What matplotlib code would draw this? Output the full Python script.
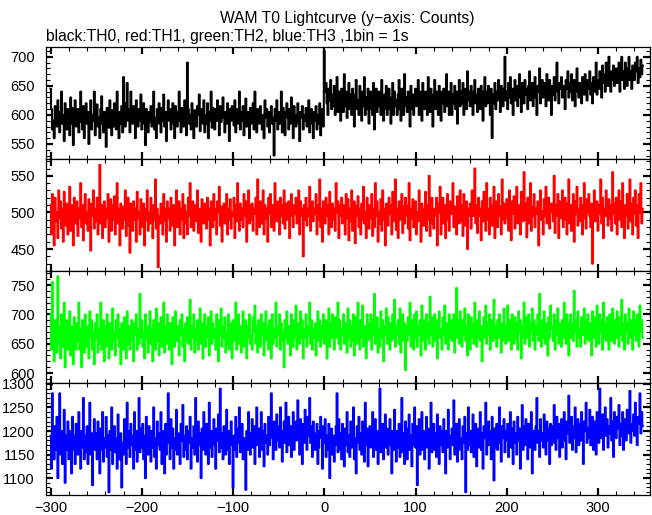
import numpy as np
import matplotlib
matplotlib.use('Agg')
import matplotlib.pyplot as plt
from matplotlib.ticker import MultipleLocator

# 1 s bins, t = -300 ... 349
t_start = -300
t_step = 1

th0 = [645, 610, 575, 590, 560, 615, 600, 580, 625, 595,
       570, 605, 640, 585, 600, 555, 620, 590, 575, 610,
       598, 565, 630, 585, 612, 548, 600, 625, 580, 595,
       610, 570, 588, 640, 600, 575, 615, 560, 595, 620,
       585, 605, 550, 598, 625, 575, 600, 590, 640, 565,
       600, 618, 580, 595, 560, 610, 632, 585, 570, 605,
       590, 545, 612, 600, 578, 625, 595, 565, 608, 580,
       620, 598, 575, 640, 590, 560, 605, 585, 615, 570,
       665, 600, 580, 620, 655, 590, 610, 570, 640, 600,
       585, 615, 595, 560, 625, 605, 580, 610, 590, 635,
       575, 600, 620, 585, 548, 610, 595, 570, 605, 588,
       615, 580, 600, 640, 575, 595, 560, 610, 585, 620,
       598, 570, 612, 590, 635, 580, 605, 555, 600, 625,
       590, 610, 575, 600, 620, 585, 560, 615, 595, 580,
       605, 640, 590, 570, 612, 595, 580, 625, 600, 565,
       690, 610, 585, 600, 575, 620, 595, 560, 608, 590,
       580, 615, 600, 635, 572, 598, 610, 585, 625, 570,
       600, 585, 620, 560, 605, 590, 640, 578, 612, 595,
       575, 610, 590, 625, 600, 565, 615, 588, 600, 630,
       595, 570, 605, 585, 620, 600, 555, 610, 590, 615,
       600, 582, 625, 570, 595, 610, 585, 640, 575, 605,
       590, 615, 565, 600, 628, 580, 605, 595, 560, 612,
       585, 600, 620, 575, 640, 595, 570, 610, 600, 585,
       615, 590, 575, 600, 560, 625, 595, 610, 580, 605,
       570, 600, 615, 585, 595, 530, 610, 590, 625, 575,
       605, 585, 598, 640, 570, 612, 590, 565, 605, 620,
       595, 575, 610, 585, 630, 600, 560, 615, 590, 580,
       600, 620, 585, 555, 605, 595, 615, 575, 600, 590,
       612, 580, 600, 625, 570, 595, 610, 585, 560, 605,
       590, 615, 575, 600, 585, 620, 565, 598, 610, 580,
       710, 640, 655, 620, 600, 645, 625, 660, 610, 635,
       615, 650, 600, 628, 665, 605, 640, 620, 590, 645,
       630, 605, 670, 615, 640, 595, 625, 655, 610, 635,
       600, 645, 620, 580, 635, 660, 610, 625, 600, 650,
       625, 590, 640, 615, 665, 600, 630, 610, 645, 585,
       610, 640, 625, 600, 655, 575, 620, 645, 605, 630,
       640, 615, 600, 660, 625, 590, 635, 610, 650, 600,
       620, 645, 610, 585, 630, 655, 600, 640, 615, 625,
       600, 635, 660, 610, 590, 645, 625, 600, 670, 615,
       630, 605, 640, 620, 580, 650, 610, 635, 600, 625,
       645, 615, 630, 660, 600, 640, 620, 590, 655, 625,
       610, 640, 625, 600, 665, 630, 605, 645, 620, 580,
       635, 660, 610, 640, 620, 600, 650, 625, 590, 640,
       620, 645, 605, 630, 670, 615, 640, 600, 630, 655,
       600, 635, 620, 650, 610, 640, 585, 625, 660, 615,
       640, 620, 655, 600, 630, 645, 610, 675, 625, 640,
       615, 650, 630, 600, 640, 660, 620, 635, 605, 645,
       630, 610, 650, 625, 590, 640, 665, 615, 640, 620,
       650, 625, 600, 645, 560, 635, 620, 655, 610, 640,
       625, 660, 635, 605, 650, 630, 615, 645, 700, 625,
       640, 610, 655, 630, 665, 620, 645, 600, 640, 660,
       625, 650, 615, 640, 670, 630, 605, 655, 640, 620,
       660, 635, 645, 610, 650, 675, 625, 640, 655, 615,
       640, 665, 630, 600, 650, 640, 680, 620, 645, 660,
       630, 655, 640, 615, 670, 645, 625, 660, 640, 600,
       650, 635, 665, 625, 645, 690, 640, 620, 655, 645,
       665, 630, 650, 640, 610, 660, 645, 675, 630, 655,
       640, 670, 625, 650, 660, 615, 645, 680, 640, 630,
       655, 640, 620, 665, 650, 635, 670, 645, 625, 660,
       645, 675, 635, 655, 620, 665, 650, 640, 690, 635,
       660, 645, 675, 650, 630, 685, 655, 670, 640, 690,
       665, 650, 700, 655, 640, 675, 660, 685, 650, 670,
       680, 655, 665, 690, 640, 670, 700, 660, 675, 645,
       690, 665, 650, 680, 700, 660, 675, 645, 685, 670,
       660, 690, 675, 700, 655, 680, 665, 695, 670, 685]

th1 = [510, 470, 525, 495, 455, 520, 488, 500, 465, 530,
       492, 515, 478, 505, 460, 528, 495, 482, 512, 470,
       498, 535, 475, 510, 490, 455, 520, 500, 485, 515,
       468, 505, 492, 540, 480, 510, 462, 498, 525, 485,
       500, 475, 518, 490, 448, 512, 495, 530, 478, 505,
       488, 520, 470, 502, 565, 485, 510, 465, 498, 515,
       480, 505, 492, 525, 460, 500, 518, 475, 510, 490,
       522, 470, 498, 540, 485, 505, 455, 512, 495, 478,
       508, 490, 530, 468, 500, 520, 482, 445, 512, 495,
       475, 515, 490, 505, 460, 528, 492, 500, 470, 518,
       495, 480, 512, 455, 505, 490, 530, 475, 500, 485,
       520, 498, 465, 510, 490, 545, 478, 505, 425, 495,
       485, 512, 500, 470, 525, 488, 505, 460, 515, 492,
       505, 475, 520, 495, 482, 510, 455, 500, 530, 480,
       498, 515, 470, 505, 490, 525, 465, 510, 485, 500,
       470, 520, 495, 540, 480, 505, 515, 475, 498, 510,
       488, 530, 472, 505, 495, 460, 518, 500, 485, 512,
       495, 478, 520, 490, 505, 455, 515, 498, 480, 525,
       505, 490, 470, 515, 500, 535, 482, 508, 460, 495,
       512, 485, 500, 525, 470, 505, 490, 518, 478, 500,
       495, 520, 465, 510, 488, 540, 500, 475, 512, 490,
       505, 480, 525, 495, 515, 460, 500, 530, 485, 510,
       490, 512, 475, 505, 498, 520, 470, 545, 495, 480,
       515, 500, 485, 530, 470, 510, 492, 505, 460, 520,
       498, 525, 480, 510, 495, 475, 540, 500, 488, 515,
       505, 470, 520, 495, 510, 485, 530, 478, 500, 512,
       490, 515, 465, 505, 525, 495, 480, 510, 498, 520,
       485, 500, 530, 470, 515, 495, 505, 440, 510, 490,
       520, 482, 505, 495, 535, 475, 500, 515, 488, 505,
       498, 525, 470, 510, 490, 545, 480, 505, 460, 515,
       500, 485, 520, 495, 510, 470, 528, 498, 480, 512,
       490, 505, 475, 540, 500, 515, 465, 510, 495, 520,
       485, 510, 498, 470, 525, 492, 518, 462, 505, 488,
       530, 475, 500, 515, 458, 508, 495, 522, 480, 505,
       470, 512, 490, 535, 485, 500, 465, 520, 498, 478,
       510, 492, 525, 468, 505, 480, 540, 495, 515, 460,
       500, 485, 518, 475, 530, 490, 505, 455, 512, 495,
       482, 520, 498, 510, 470, 528, 488, 502, 545, 476,
       505, 465, 515, 490, 500, 525, 472, 508, 485, 520,
       495, 510, 478, 540, 462, 505, 492, 518, 480, 500,
       515, 470, 500, 488, 530, 495, 460, 512, 505, 482,
       498, 528, 475, 510, 490, 550, 468, 505, 520, 485,
       478, 505, 495, 520, 455, 512, 500, 535, 470, 508,
       520, 485, 510, 465, 500, 525, 490, 475, 515, 498,
       505, 540, 480, 508, 492, 470, 522, 500, 485, 530,
       488, 510, 468, 525, 500, 482, 515, 450, 505, 495,
       512, 478, 530, 495, 505, 560, 485, 510, 472, 520,
       495, 505, 462, 515, 488, 528, 500, 475, 540, 490,
       505, 470, 520, 498, 482, 510, 535, 465, 500, 515,
       480, 525, 495, 508, 470, 545, 490, 512, 485, 500,
       518, 492, 475, 530, 505, 462, 515, 498, 522, 478,
       500, 535, 485, 510, 495, 470, 528, 505, 488, 555,
       490, 512, 466, 520, 500, 485, 540, 475, 508, 495,
       525, 480, 505, 498, 515, 455, 510, 530, 490, 502,
       470, 518, 495, 535, 485, 505, 520, 478, 500, 512,
       505, 488, 550, 472, 510, 495, 525, 465, 515, 500,
       492, 530, 480, 505, 520, 490, 470, 512, 545, 485,
       510, 475, 500, 525, 460, 515, 498, 535, 482, 505,
       488, 520, 505, 470, 510, 540, 492, 478, 518, 500,
       525, 495, 480, 512, 430, 505, 530, 488, 500, 515,
       475, 510, 498, 545, 485, 520, 465, 505, 495, 530,
       500, 482, 518, 492, 510, 475, 555, 498, 512, 485,
       520, 470, 505, 530, 490, 515, 480, 540, 500, 465,
       510, 495, 525, 478, 505, 545, 488, 512, 470, 520,
       498, 530, 482, 510, 465, 525, 500, 540, 485, 505]

th2 = [700, 640, 755, 660, 620, 690, 675, 635, 765, 650,
       680, 625, 700, 660, 645, 720, 610, 670, 690, 640,
       665, 705, 630, 680, 650, 615, 695, 660, 640, 685,
       655, 720, 640, 675, 610, 690, 665, 635, 700, 660,
       645, 680, 625, 705, 660, 690, 640, 670, 615, 685,
       660, 700, 635, 675, 650, 720, 640, 665, 690, 620,
       680, 645, 700, 660, 625, 685, 670, 640, 710, 655,
       670, 630, 690, 660, 700, 645, 675, 615, 685, 660,
       640, 695, 665, 625, 705, 650, 680, 640, 670, 690,
       655, 620, 685, 665, 700, 640, 675, 650, 735, 660,
       690, 645, 670, 625, 700, 660, 680, 635, 665, 705,
       650, 675, 620, 690, 660, 640, 710, 655, 685, 630,
       670, 695, 645, 660, 720, 635, 680, 650, 700, 665,
       640, 685, 660, 615, 695, 670, 645, 705, 655, 680,
       660, 630, 690, 665, 700, 645, 675, 620, 685, 655,
       695, 650, 670, 725, 640, 680, 660, 700, 635, 675,
       655, 690, 640, 670, 710, 650, 685, 625, 665, 700,
       645, 680, 660, 695, 630, 670, 705, 650, 685, 660,
       675, 640, 700, 660, 620, 690, 665, 710, 645, 680,
       660, 695, 635, 670, 650, 700, 640, 685, 665, 625,
       690, 655, 675, 720, 640, 665, 700, 650, 680, 635,
       670, 705, 645, 660, 690, 625, 680, 660, 700, 650,
       665, 640, 695, 670, 715, 650, 680, 635, 690, 660,
       645, 700, 665, 685, 630, 670, 705, 655, 680, 640,
       690, 660, 625, 700, 650, 675, 660, 720, 645, 680,
       665, 700, 640, 685, 655, 670, 610, 690, 660, 705,
       650, 680, 665, 630, 700, 675, 645, 690, 660, 715,
       640, 685, 670, 650, 705, 660, 690, 625, 675, 660,
       700, 645, 680, 665, 720, 650, 690, 640, 675, 660,
       685, 630, 670, 705, 655, 690, 645, 680, 660, 700,
       650, 675, 690, 625, 665, 710, 645, 685, 660, 700,
       670, 640, 695, 660, 680, 720, 650, 690, 640, 675,
       665, 700, 650, 685, 670, 635, 710, 660, 690, 645,
       680, 655, 700, 630, 675, 695, 650, 720, 665, 640,
       690, 660, 715, 645, 680, 670, 625, 700, 655, 685,
       660, 700, 640, 690, 665, 735, 650, 675, 695, 635,
       675, 645, 705, 660, 690, 620, 680, 665, 710, 650,
       695, 670, 640, 685, 655, 700, 660, 725, 645, 680,
       665, 690, 650, 710, 635, 675, 700, 655, 685, 605,
       680, 655, 695, 665, 720, 645, 690, 670, 640, 700,
       660, 705, 645, 680, 665, 690, 630, 715, 655, 675,
       690, 640, 700, 660, 685, 650, 730, 665, 695, 645,
       670, 700, 655, 690, 625, 680, 705, 660, 675, 640,
       695, 665, 715, 650, 685, 670, 640, 700, 660, 690,
       655, 680, 700, 635, 670, 745, 660, 690, 650, 705,
       675, 645, 690, 665, 710, 655, 680, 630, 700, 670,
       640, 695, 660, 685, 650, 720, 670, 645, 690, 660,
       705, 655, 680, 620, 675, 695, 660, 715, 650, 685,
       665, 700, 640, 690, 670, 655, 725, 660, 680, 645,
       690, 660, 700, 675, 635, 685, 655, 710, 670, 650,
       680, 715, 655, 690, 665, 640, 700, 675, 650, 695,
       660, 685, 640, 705, 670, 690, 625, 680, 660, 720,
       650, 695, 675, 660, 700, 645, 685, 670, 710, 655,
       690, 640, 680, 665, 700, 655, 735, 670, 645, 690,
       660, 705, 650, 685, 670, 630, 695, 660, 715, 675,
       680, 655, 700, 640, 690, 665, 710, 650, 685, 670,
       645, 690, 660, 720, 675, 650, 700, 665, 630, 685,
       700, 660, 685, 655, 740, 670, 690, 645, 705, 660,
       675, 645, 695, 665, 680, 710, 650, 690, 660, 700,
       655, 685, 670, 630, 705, 660, 695, 675, 645, 715,
       680, 650, 700, 670, 690, 640, 720, 660, 685, 655,
       695, 665, 640, 700, 675, 655, 710, 680, 650, 690,
       660, 705, 670, 645, 695, 665, 725, 655, 685, 640,
       700, 670, 685, 650, 710, 660, 690, 675, 640, 705,
       665, 690, 655, 700, 680, 645, 715, 670, 690, 660]

th3 = [1190, 1120, 1280, 1170, 1140, 1210, 1160, 1230, 1100, 1180,
       1280, 1150, 1200, 1130, 1175, 1245, 1090, 1190, 1160, 1220,
       1140, 1200, 1170, 1110, 1230, 1160, 1190, 1130, 1215, 1175,
       1150, 1240, 1180, 1120, 1200, 1165, 1270, 1140, 1190, 1155,
       1210, 1130, 1175, 1260, 1150, 1195, 1085, 1180, 1225, 1160,
       1195, 1140, 1220, 1170, 1110, 1205, 1160, 1240, 1135, 1185,
       1165, 1230, 1145, 1190, 1070, 1200, 1160, 1250, 1130, 1180,
       1210, 1155, 1185, 1120, 1235, 1170, 1140, 1195, 1080, 1175,
       1150, 1225, 1180, 1130, 1260, 1165, 1200, 1145, 1215, 1170,
       1190, 1120, 1240, 1160, 1200, 1135, 1180, 1270, 1155, 1205,
       1165, 1215, 1140, 1190, 1100, 1230, 1175, 1150, 1210, 1185,
       1135, 1200, 1165, 1250, 1145, 1185, 1120, 1220, 1170, 1195,
       1160, 1240, 1130, 1200, 1175, 1110, 1215, 1150, 1190, 1280,
       1175, 1140, 1225, 1165, 1205, 1120, 1185, 1160, 1245, 1150,
       1195, 1170, 1130, 1215, 1180, 1255, 1145, 1190, 1160, 1210,
       1140, 1200, 1175, 1230, 1120, 1185, 1165, 1210, 1150, 1270,
       1180, 1135, 1220, 1170, 1195, 1100, 1205, 1160, 1240, 1175,
       1150, 1215, 1185, 1130, 1260, 1165, 1200, 1145, 1190, 1225,
       1170, 1120, 1205, 1180, 1235, 1155, 1290, 1165, 1195, 1140,
       1210, 1175, 1150, 1245, 1160, 1200, 1130, 1185, 1220, 1170,
       1080, 1190, 1160, 1230, 1145, 1205, 1175, 1250, 1155, 1195,
       1215, 1140, 1185, 1170, 1075, 1200, 1160, 1240, 1180, 1150,
       1195, 1225, 1165, 1210, 1130, 1190, 1250, 1170, 1205, 1145,
       1180, 1240, 1160, 1200, 1125, 1215, 1175, 1190, 1150, 1230,
       1170, 1205, 1280, 1185, 1140, 1220, 1195, 1160, 1235, 1180,
       1210, 1165, 1250, 1190, 1135, 1200, 1220, 1175, 1260, 1155,
       1195, 1230, 1170, 1210, 1145, 1185, 1240, 1160, 1205, 1220,
       1180, 1265, 1190, 1150, 1225, 1200, 1130, 1215, 1175, 1245,
       1205, 1160, 1230, 1190, 1270, 1175, 1210, 1145, 1220, 1195,
       1160, 1180, 1215, 1130, 1165, 1200, 1230, 1185, 1120, 1210,
       1175, 1225, 1145, 1190, 1160, 1215, 1100, 1185, 1205, 1150,
       1190, 1135, 1170, 1210, 1280, 1155, 1225, 1160, 1195, 1140,
       1215, 1180, 1125, 1205, 1170, 1240, 1155, 1190, 1145, 1220,
       1165, 1200, 1250, 1140, 1185, 1110, 1210, 1175, 1230, 1160,
       1195, 1150, 1220, 1180, 1135, 1260, 1170, 1205, 1125, 1185,
       1210, 1165, 1190, 1240, 1145, 1175, 1225, 1160, 1200, 1130,
       1175, 1290, 1155, 1195, 1215, 1140, 1185, 1235, 1165, 1205,
       1150, 1190, 1225, 1170, 1110, 1200, 1160, 1245, 1180, 1135,
       1200, 1165, 1215, 1145, 1185, 1270, 1155, 1195, 1130, 1220,
       1180, 1140, 1205, 1235, 1160, 1190, 1125, 1215, 1170, 1250,
       1165, 1210, 1085, 1195, 1225, 1150, 1180, 1240, 1160, 1200,
       1140, 1185, 1230, 1165, 1205, 1120, 1190, 1260, 1155, 1175,
       1215, 1160, 1195, 1145, 1235, 1180, 1130, 1210, 1170, 1200,
       1155, 1225, 1185, 1110, 1200, 1165, 1245, 1175, 1140, 1190,
       1205, 1170, 1265, 1150, 1190, 1215, 1135, 1180, 1225, 1160,
       1185, 1140, 1210, 1175, 1230, 1070, 1195, 1160, 1250, 1170,
       1200, 1155, 1190, 1235, 1145, 1180, 1215, 1125, 1205, 1165,
       1175, 1240, 1160, 1195, 1120, 1210, 1185, 1260, 1150, 1190,
       1220, 1170, 1200, 1140, 1230, 1180, 1095, 1205, 1165, 1215,
       1160, 1195, 1250, 1175, 1135, 1210, 1185, 1225, 1155, 1200,
       1180, 1215, 1145, 1190, 1240, 1165, 1205, 1130, 1220, 1175,
       1195, 1150, 1230, 1180, 1205, 1120, 1190, 1255, 1160, 1210,
       1170, 1225, 1185, 1140, 1215, 1195, 1165, 1240, 1110, 1200,
       1185, 1160, 1210, 1270, 1175, 1200, 1145, 1225, 1180, 1195,
       1165, 1235, 1190, 1150, 1220, 1180, 1205, 1130, 1215, 1170,
       1210, 1175, 1255, 1195, 1160, 1230, 1185, 1215, 1145, 1200,
       1225, 1165, 1200, 1240, 1180, 1140, 1220, 1195, 1275, 1175,
       1190, 1230, 1160, 1210, 1185, 1250, 1155, 1200, 1225, 1170,
       1215, 1180, 1240, 1195, 1130, 1220, 1200, 1260, 1175, 1205,
       1185, 1245, 1170, 1210, 1230, 1160, 1195, 1220, 1150, 1240,
       1200, 1175, 1290, 1215, 1185, 1235, 1160, 1205, 1250, 1190,
       1225, 1165, 1210, 1195, 1270, 1180, 1220, 1145, 1240, 1200,
       1185, 1230, 1205, 1255, 1170, 1215, 1190, 1240, 1160, 1225,
       1210, 1180, 1245, 1195, 1220, 1285, 1175, 1215, 1200, 1235,
       1190, 1260, 1205, 1170, 1230, 1215, 1280, 1195, 1240, 1210]

series = [th0, th1, th2, th3]
colors = ['black', 'red', '#00ff00', 'blue']
ylims = [(524, 717), (420, 573), (583, 774), (1064, 1302)]

plt.rcParams['font.family'] = ['Liberation Sans', 'DejaVu Sans']
plt.rcParams['font.size'] = 10.5

fig = plt.figure(figsize=(6.52, 5.15), dpi=100)
left, right = 46 / 652, 650 / 652
top, bottom = 1 - 47 / 515, 1 - 495 / 515
h = (top - bottom) / 4

for i, (y, c) in enumerate(zip(series, colors)):
    ax = fig.add_axes([left, top - (i + 1) * h, right - left, h])
    x = t_start + t_step * np.arange(len(y))
    ax.plot(x, y, color=c, lw=1.5, drawstyle='steps-mid')
    ax.set_xlim(-305, 357)
    ax.set_ylim(*ylims[i])
    ax.xaxis.set_major_locator(MultipleLocator(100))
    ax.xaxis.set_minor_locator(MultipleLocator(20))
    ax.yaxis.set_major_locator(MultipleLocator(50))
    ax.yaxis.set_minor_locator(MultipleLocator(10))
    ax.tick_params(which='both', direction='in', top=True, right=True)
    ax.tick_params(axis='y', pad=8)
    ax.tick_params(axis='x', pad=4)
    ax.tick_params(which='major', length=5, width=1.6)
    ax.tick_params(which='minor', length=3, width=0.8)
    for s in ax.spines.values():
        s.set_linewidth(0.9)
    if i < 3:
        ax.set_xticklabels([])

fig.text(347 / 652, 1 - 18 / 515, 'WAM T0 Lightcurve (y\u2212axis: Counts)',
         ha='center', va='center', fontsize=11.25)
fig.text(left, 1 - 36 / 515, 'black:TH0, red:TH1, green:TH2, blue:TH3 ,1bin = 1s',
         ha='left', va='center', fontsize=11.25)

fig.savefig('out.png', dpi=100)
